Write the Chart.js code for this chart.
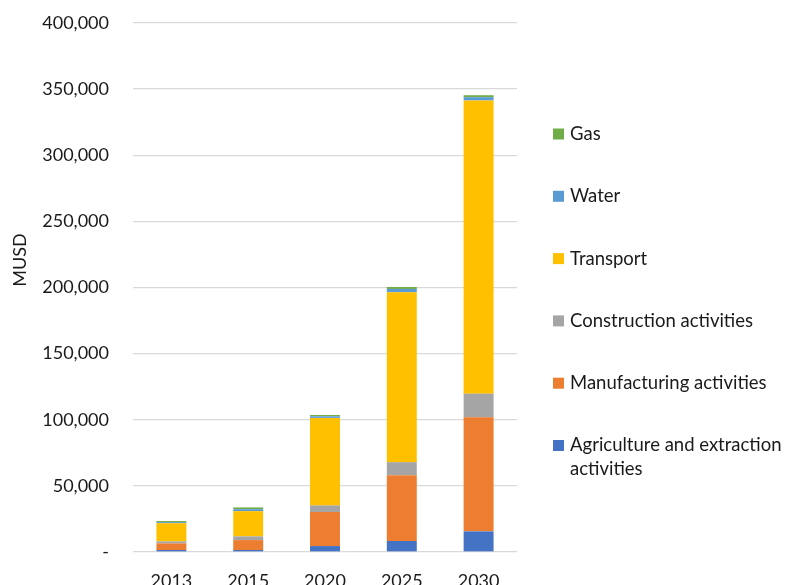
<!DOCTYPE html>
<html>
<head>
<meta charset="utf-8">
<script src="https://cdn.jsdelivr.net/npm/chart.js@4/dist/chart.umd.min.js"></script>
<style>
  html, body { margin: 0; padding: 0; background: #fff; }
  #wrap { width: 785px; height: 585px; }
</style>
</head>
<body>
<div id="wrap"><canvas id="chart"></canvas></div>
<script>
// stacked value of output by sector, MUSD
const years = ["2013", "2015", "2020", "2025", "2030"];
const agriculture = [1500, 1500, 4500, 8300, 15600];
const manufacturing = [5000, 7500, 25700, 49800, 86200];
const construction = [1500, 2800, 5000, 9800, 17900];
const transport = [13800, 19100, 66200, 128500, 221700];
const water = [800, 1500, 1200, 2500, 2500];
const gas = [800, 1300, 1000, 1500, 1500];

const seriesNames = ["Agriculture and extraction activities", "Manufacturing activities",
  "Construction activities", "Transport", "Water", "Gas"];
const seriesColors = ["#4472C4", "#ED7D31", "#A5A5A5", "#FFC000", "#5B9BD5", "#70AD47"];
const seriesValues = [agriculture, manufacturing, construction, transport, water, gas];

const FONT = "Lato, Calibri, sans-serif";
const FONT_SIZE = 18;
const TEXT_COLOR = "#1a1a1a";

// right-hand legend (reversed order) plus the rotated axis title
const sideLabels = {
  id: "sideLabels",
  afterDraw(chart, args, opts) {
    const ctx = chart.ctx;
    ctx.save();
    ctx.font = opts.fontSize + "px " + FONT;
    ctx.fillStyle = TEXT_COLOR;
    ctx.textBaseline = "middle";
    ctx.textAlign = "left";
    const items = chart.data.datasets.slice().reverse();
    const maxW = chart.width - opts.textX - 2;
    items.forEach((ds, i) => {
      const y = opts.top + i * opts.step;
      ctx.fillStyle = ds.backgroundColor;
      ctx.fillRect(opts.boxX, y - 5.5, 11, 11);
      ctx.fillStyle = TEXT_COLOR;
      // simple word wrap
      const words = ds.label.split(" ");
      let line = "", lines = [];
      words.forEach(w => {
        const test = line ? line + " " + w : w;
        if (ctx.measureText(test).width > maxW && line) {
          lines.push(line);
          line = w;
        } else {
          line = test;
        }
      });
      lines.push(line);
      lines.forEach((l, j) => ctx.fillText(l, opts.textX, y + j * opts.lineHeight));
    });

    ctx.font = FONT_SIZE + "px " + FONT;
    ctx.translate(opts.titleX, opts.titleY);
    ctx.rotate(-Math.PI / 2);
    ctx.textAlign = "center";
    ctx.fillText("MUSD", 0, 0);
    ctx.restore();
  }
};

const datasets = seriesNames.map((name, i) => ({
  label: name,
  data: seriesValues[i],
  backgroundColor: seriesColors[i],
  borderWidth: 0,
  categoryPercentage: 1,
  barPercentage: 0.39
}));

new Chart(document.getElementById("chart"), {
  type: "bar",
  data: { labels: years, datasets: datasets },
  plugins: [sideLabels],
  options: {
    responsive: true,
    maintainAspectRatio: false,
    animation: false,
    layout: { padding: { top: 23, right: 268, bottom: 0, left: 0 } },
    plugins: {
      legend: { display: false },
      tooltip: { enabled: false },
      sideLabels: { boxX: 553, textX: 570, top: 134, step: 62.3, lineHeight: 24, fontSize: 18.5, titleX: 20, titleY: 260 }
    },
    scales: {
      x: {
        stacked: true,
        grid: { display: false },
        border: { display: false },
        ticks: { color: TEXT_COLOR, font: { family: FONT, size: FONT_SIZE }, padding: 10, maxRotation: 0 },
        afterFit(scale) {
          scale.height = 33;
          scale.paddingLeft = 0;
          scale.paddingRight = 0;
        }
      },
      y: {
        stacked: true,
        min: 0,
        max: 400000,
        grid: { color: "#d9d9d9", lineWidth: 1.3, drawTicks: false },
        border: { display: false },
        ticks: {
          stepSize: 50000,
          color: TEXT_COLOR,
          padding: 24,
          font: { family: FONT, size: FONT_SIZE },
          callback: v => v === 0 ? "-" : v.toLocaleString("en-US")
        },
        afterFit(scale) {
          scale.width = 133;
          scale.paddingTop = 0;
          scale.paddingBottom = 0;
        }
      }
    }
  }
});
</script>
</body>
</html>
